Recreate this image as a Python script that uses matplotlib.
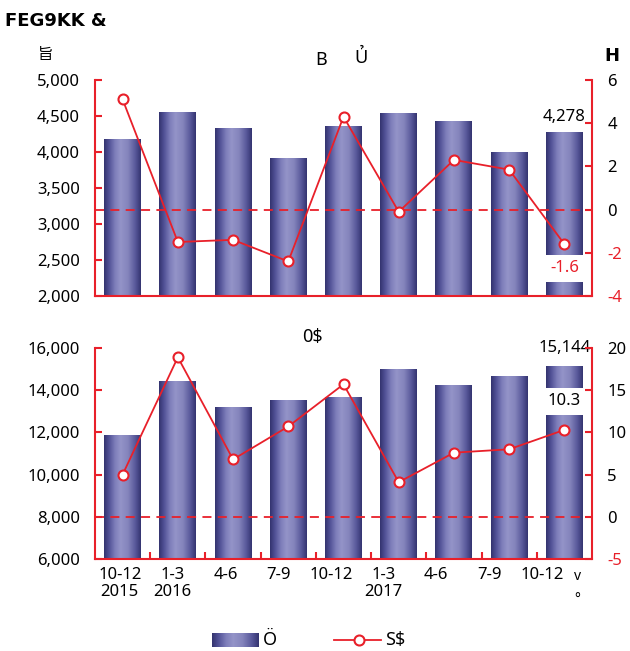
import numpy as np
import matplotlib
matplotlib.use('Agg')
import matplotlib.pyplot as plt
from matplotlib.colors import LinearSegmentedColormap
from matplotlib.lines import Line2D

plt.rcParams['font.family'] = ['Noto Sans', 'Noto Sans CJK JP', 'DejaVu Sans']

RED = '#e8202a'

# quarters shared by both panels
quarters = ['10-12\n2015', '1-3\n2016', '4-6', '7-9', '10-12',
            '1-3\n2017', '4-6', '7-9', '10-12']

# upper panel: amount (left axis) and rate (right axis)
top_amount = [4180, 4550, 4330, 3915, 4360, 4545, 4430, 4005, 4278]
top_rate = [5.1, -1.5, -1.4, -2.4, 4.3, -0.1, 2.3, 1.85, -1.6]

# lower panel
bot_amount = [11860, 14420, 13190, 13520, 13700, 14990, 14230, 14660, 15144]
bot_rate = [5.0, 18.9, 6.8, 10.7, 15.7, 4.1, 7.6, 8.0, 10.3]

top_left_ticks = [2000, 2500, 3000, 3500, 4000, 4500, 5000]
top_right_ticks = [-4, -2, 0, 2, 4, 6]
bot_left_ticks = [6000, 8000, 10000, 12000, 14000, 16000]
bot_right_ticks = [-5, 0, 5, 10, 15, 20]

bar_cmap = LinearSegmentedColormap.from_list('bar', [
    (0.0, '#33336e'), (0.12, '#4d4d92'), (0.3, '#7e7eba'),
    (0.45, '#9494c8'), (0.65, '#8484bc'), (0.85, '#58589a'),
    (1.0, '#343470')])
grad = np.linspace(0, 1, 256).reshape(1, -1)

W, H = 630, 651
fig = plt.figure(figsize=(W / 100, H / 100), dpi=100)


def box(x0, y0, x1, y1):
    return [x0 / W, 1 - y1 / H, (x1 - x0) / W, (y1 - y0) / H]


def panel(rect, amounts, rates, lticks, rticks):
    ax = fig.add_axes(rect)
    x = np.arange(len(amounts))
    bars = ax.bar(x, amounts, width=0.67, color='none', edgecolor='none')
    for b in bars:
        im = ax.imshow(grad, cmap=bar_cmap, aspect='auto', zorder=2,
                       extent=[b.get_x(), b.get_x() + b.get_width(),
                               lticks[0], b.get_height()])
        im.set_clip_path(b)
    ax.set_xlim(-0.5, len(amounts) - 0.5)
    ax.set_ylim(lticks[0], lticks[-1])
    ax.set_yticks(lticks)
    ax.set_yticklabels([f'{v:,}' for v in lticks])
    ax.tick_params(axis='y', direction='in', length=5, width=1.5,
                   color=RED, labelsize=12, pad=11)
    for s in ['top', 'right']:
        ax.spines[s].set_visible(False)
    for s in ['left', 'bottom']:
        ax.spines[s].set_color(RED)
        ax.spines[s].set_linewidth(1.5)

    ax2 = ax.twinx()
    ax2.axhline(0, color=RED, lw=1.3, ls=(0, (5, 3.5)), zorder=2)
    ax2.plot(x, rates, color=RED, lw=1.3, marker='o', ms=7.2,
             mfc='white', mec=RED, mew=1.5, zorder=3)
    ax2.set_ylim(rticks[0], rticks[-1])
    ax2.set_yticks(rticks)
    ax2.set_yticklabels([str(v) for v in rticks])
    for t, v in zip(ax2.get_yticklabels(), rticks):
        t.set_color(RED if v < 0 else 'black')
    ax2.tick_params(axis='y', direction='in', length=5, width=1.5,
                    color=RED, labelsize=12, pad=11)
    for s in ['top', 'left', 'bottom']:
        ax2.spines[s].set_visible(False)
    ax2.spines['right'].set_color(RED)
    ax2.spines['right'].set_linewidth(1.5)
    return ax, ax2, x


ax_t, ax_t2, x = panel(box(95, 80, 592, 296), top_amount, top_rate,
                       top_left_ticks, top_right_ticks)
ax_t.set_xticks([])

ax_b, ax_b2, x = panel(box(95, 348, 592, 559), bot_amount, bot_rate,
                       bot_left_ticks, bot_right_ticks)
# quarter labels sit on a slightly tighter pitch than the bars
ax_b.set_xticks(x * 0.955 - 0.05, quarters)
ax_b.tick_params(axis='x', which='major', length=0, labelsize=12, pad=6)
ax_b.set_xticks(np.arange(0.5, len(x) - 1), minor=True)
ax_b.tick_params(axis='x', which='minor', direction='in', length=5,
                 width=1.5, color=RED)
for t in ax_b.get_xticklabels():
    t.set_linespacing(1.05)

# value labels on the last quarter
last = len(x) - 1
ax_t.annotate(f'{top_amount[-1]:,}', xy=(last, top_amount[-1]),
              xytext=(0, 5), textcoords='offset points',
              ha='center', va='bottom', fontsize=12)
ax_t.annotate(f'{top_rate[-1]}', xy=(last, top_rate[-1]),
              xycoords=ax_t2.transData, xytext=(0, -17.5),
              textcoords='offset points', ha='center', va='center',
              fontsize=12, color=RED, zorder=5,
              bbox=dict(boxstyle='square,pad=0.34', fc='white', ec='none'))
ax_b.annotate(f'{bot_amount[-1]:,}', xy=(last, bot_amount[-1]),
              xytext=(0, 7), textcoords='offset points',
              ha='center', va='bottom', fontsize=12)
ax_b.annotate(f'{bot_rate[-1]}', xy=(last, bot_rate[-1]),
              xycoords=ax_b2.transData, xytext=(0, 20.5),
              textcoords='offset points', ha='center', va='center',
              fontsize=12, color='black', zorder=5,
              bbox=dict(boxstyle='square,pad=0.34', fc='white', ec='none'))

# free text and legend, placed in pixel space
ov = fig.add_axes([0, 0, 1, 1])
ov.set_xlim(0, W)
ov.set_ylim(H, 0)
ov.axis('off')

ov.text(5, 21, 'FEG9KK &', fontsize=13, fontweight='bold', va='center',
        family=['DejaVu Sans'])
ov.text(46, 56, '旨', fontsize=11, ha='center', va='center')
ov.text(612, 56, 'H', fontsize=13, fontweight='bold', ha='center',
        va='center', family=['DejaVu Sans'])
ov.text(321, 60, 'B', fontsize=13, ha='center', va='center')
ov.text(361, 58, 'Ủ', fontsize=13, ha='center', va='center')
ov.text(312, 337, '0$', fontsize=13, ha='center', va='center')
ov.text(577, 577, 'v', fontsize=10, ha='center', va='center')
ov.text(577, 600, '°', fontsize=10, ha='center', va='center')

ov.imshow(grad, cmap=bar_cmap, aspect='auto', extent=[212, 259, 647, 633])
ov.text(263, 640, 'Ö', fontsize=13, va='center')
ov.add_line(Line2D([334, 381], [640, 640], color=RED, lw=1.3))
ov.plot([359], [640], marker='o', ms=7.2, mfc='white', mec=RED, mew=1.5)
ov.text(385, 640, 'S$', fontsize=13, va='center')
ov.set_xlim(0, W)
ov.set_ylim(H, 0)

fig.savefig('out.png', dpi=100)
